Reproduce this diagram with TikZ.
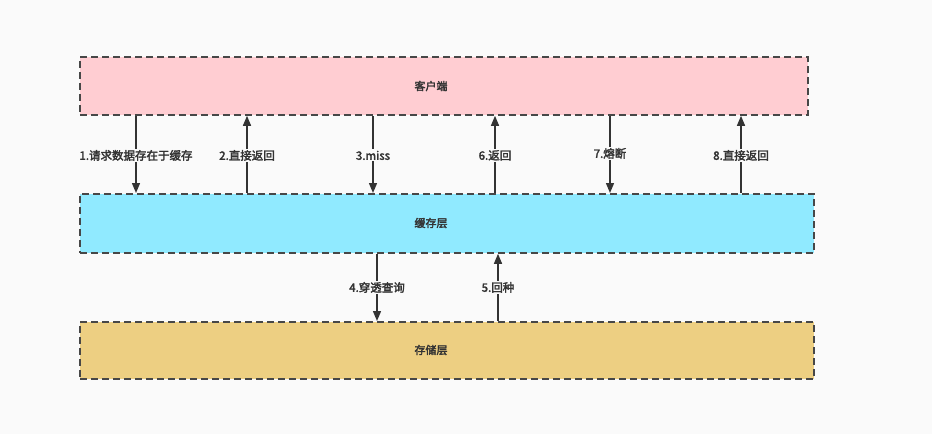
\documentclass[tikz,border=0pt]{standalone}
\usepackage{fontspec}
\newfontfamily\cjk{Noto Sans CJK SC}[AutoFakeBold=2.5]
\usetikzlibrary{arrows.meta}
\definecolor{bg}{HTML}{FAFAFA}
\definecolor{ink}{HTML}{333333}
\definecolor{pinkbox}{HTML}{FFCDD2}
\definecolor{cyanbox}{HTML}{90EAFF}
\definecolor{goldbox}{HTML}{EDCF82}
\tikzset{
  layer/.style={draw=ink!90, line width=1.8pt, dash pattern=on 7pt off 4pt, anchor=north west, inner sep=0pt},
  boxtext/.style={font=\cjk\fontsize{11}{13}\selectfont\bfseries, text=ink},
  flow/.style={draw=ink, line width=1.4pt, -{Triangle[length=10pt,width=8pt]}},
  lab/.style={font=\cjk\fontsize{11.5}{13}\selectfont\bfseries, text=ink, fill=bg, inner sep=1.5pt}
}
\begin{document}
\begin{tikzpicture}[x=1pt,y=-1pt]
\fill[bg] (0,0) rectangle (932,434);
\useasboundingbox (0,0) rectangle (932,434);
\node[layer, fill=pinkbox, minimum width=728pt, minimum height=58pt] (client) at (79,56) {};
\node[layer, fill=cyanbox, minimum width=734pt, minimum height=59pt] (cache) at (79,193) {};
\node[layer, fill=goldbox, minimum width=734pt, minimum height=57pt] (store) at (79,321) {};
\node[boxtext] (tclient) at (431,86) {客户端};
\node[boxtext] (tcache) at (431,223) {缓存层};
\node[boxtext] (tstore) at (431,350) {存储层};
\coordinate (a1) at (136,0);
\coordinate (a2) at (247,0);
\coordinate (a3) at (373,0);
\coordinate (a6) at (495,0);
\coordinate (a7) at (610,0);
\coordinate (a8) at (741,0);
\coordinate (a4) at (377,0);
\coordinate (a5) at (498,0);
\draw[flow] (a1 |- client.south) -- node[lab, yshift=-1pt] {1.请求数据存在于缓存} (a1 |- cache.north);
\draw[flow] (a2 |- cache.north) -- node[lab, yshift=-1pt] {2.直接返回} (a2 |- client.south);
\draw[flow] (a3 |- client.south) -- node[lab, yshift=-1pt] {3.miss} (a3 |- cache.north);
\draw[flow] (a6 |- cache.north) -- node[lab, yshift=-1pt] {6.返回} (a6 |- client.south);
\draw[flow] (a7 |- client.south) -- node[lab, yshift=1pt] {7.熔断} (a7 |- cache.north);
\draw[flow] (a8 |- cache.north) -- node[lab, yshift=-1pt] {8.直接返回} (a8 |- client.south);
\draw[flow] (a4 |- cache.south) -- node[lab] {4.穿透查询} (a4 |- store.north);
\draw[flow] (a5 |- store.north) -- node[lab] {5.回种} (a5 |- cache.south);
\end{tikzpicture}
\end{document}
